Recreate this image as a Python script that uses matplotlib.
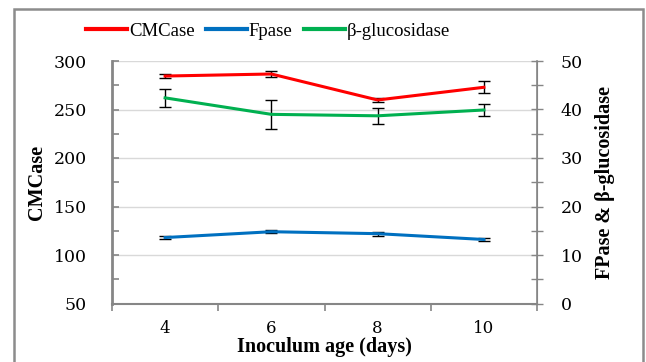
import matplotlib
matplotlib.use("Agg")
import matplotlib.pyplot as plt
from matplotlib.patches import Rectangle
from matplotlib.lines import Line2D
from matplotlib.ticker import MultipleLocator, FixedLocator

categories = ["4", "6", "8", "10"]
cmcase = [284.5, 286.6, 259.8, 272.9]
cmcase_err = [2.2, 3.2, 1.6, 6.0]
fpase = [13.6, 14.8, 14.4, 13.2]
fpase_err = [0.4, 0.3, 0.4, 0.3]
bgluc = [42.4, 39.0, 38.7, 39.9]
bgluc_err = [1.8, 3.0, 1.6, 1.2]

plt.rcParams['font.family'] = ['Liberation Serif', 'DejaVu Serif']

fig = plt.figure(figsize=(6.46, 3.62), dpi=100)
ax = fig.add_axes([112/646, 1-303.5/362, (537-112)/646, (303.5-61)/362])
ax2 = ax.twinx()

x = list(range(len(categories)))
spine_c = '#868686'
grid_c = '#D9D9D9'

ax.errorbar(x, cmcase, yerr=cmcase_err, color='#FF0000', lw=2.2, ecolor='black',
            elinewidth=1.0, capsize=4, capthick=1.0, label='CMCase', zorder=3)
ax2.errorbar(x, fpase, yerr=fpase_err, color='#0070C0', lw=2.2, ecolor='black',
             elinewidth=1.0, capsize=4, capthick=1.0, label='Fpase', zorder=3)
ax2.errorbar(x, bgluc, yerr=bgluc_err, color='#00B050', lw=2.2, ecolor='black',
             elinewidth=1.0, capsize=4, capthick=1.0, label='β-glucosidase', zorder=3)

ax.set_xlim(-0.5, len(categories) - 0.5)
ax.set_ylim(50, 300)
ax2.set_ylim(0, 50)

ax.yaxis.set_major_locator(MultipleLocator(50))
ax.yaxis.set_minor_locator(MultipleLocator(25))
ax2.yaxis.set_major_locator(MultipleLocator(10))
ax2.yaxis.set_minor_locator(MultipleLocator(5))

tick_font = 'DejaVu Serif'
ax.set_xticks(x)
ax.set_xticklabels(categories)
ax.xaxis.set_minor_locator(FixedLocator([i - 0.5 for i in range(len(categories) + 1)]))
ax.tick_params(axis='x', which='major', length=0, labelsize=12, pad=12)
ax.tick_params(axis='x', which='minor', length=5, color=spine_c, width=1.2)

ax.tick_params(axis='y', which='both', direction='in', length=5, color=spine_c, width=1.2,
               labelsize=12.5, pad=18)
ax2.tick_params(axis='y', which='both', direction='inout', length=8, color=spine_c, width=1.0,
                labelsize=12.5, pad=13)
for lab in ax.get_xticklabels() + ax.get_yticklabels() + ax2.get_yticklabels():
    lab.set_fontfamily(tick_font)

ax.yaxis.grid(True, color=grid_c, lw=1.0)
ax.set_axisbelow(True)

for a in (ax, ax2):
    a.spines['top'].set_visible(False)
    for s in ('left', 'right', 'bottom'):
        a.spines[s].set_color(spine_c)
ax.spines['left'].set_linewidth(2.0)
ax.spines['bottom'].set_linewidth(1.5)
ax2.spines['right'].set_linewidth(1.2)
ax2.spines['left'].set_visible(False)
ax2.spines['bottom'].set_visible(False)

ax.set_ylabel('CMCase', fontsize=14.5, fontweight='bold', labelpad=5)
ax2.set_ylabel('FPase & β-glucosidase', fontsize=14.5, fontweight='bold', labelpad=9)
ax.set_xlabel('Inoculum age (days)', fontsize=14.5, fontweight='bold', labelpad=0)

labels = ['CMCase', 'Fpase', 'β-glucosidase']
handles = [Line2D([], [], color='#FF0000', lw=3), Line2D([], [], color='#0070C0', lw=3),
           Line2D([], [], color='#00B050', lw=3)]
fig.legend(handles, labels, loc='center', bbox_to_anchor=(268/646, 1-31/362), ncol=3,
           frameon=False, fontsize=13.5, handlelength=2.2, handletextpad=0.1,
           columnspacing=0.6)

fig.patches.append(Rectangle((14/646, -0.05), (643-14)/646, 1.05 - 9/362,
                             transform=fig.transFigure, fill=False,
                             edgecolor='#8C8C8C', lw=1.8))

fig.savefig('out.png', dpi=100)
